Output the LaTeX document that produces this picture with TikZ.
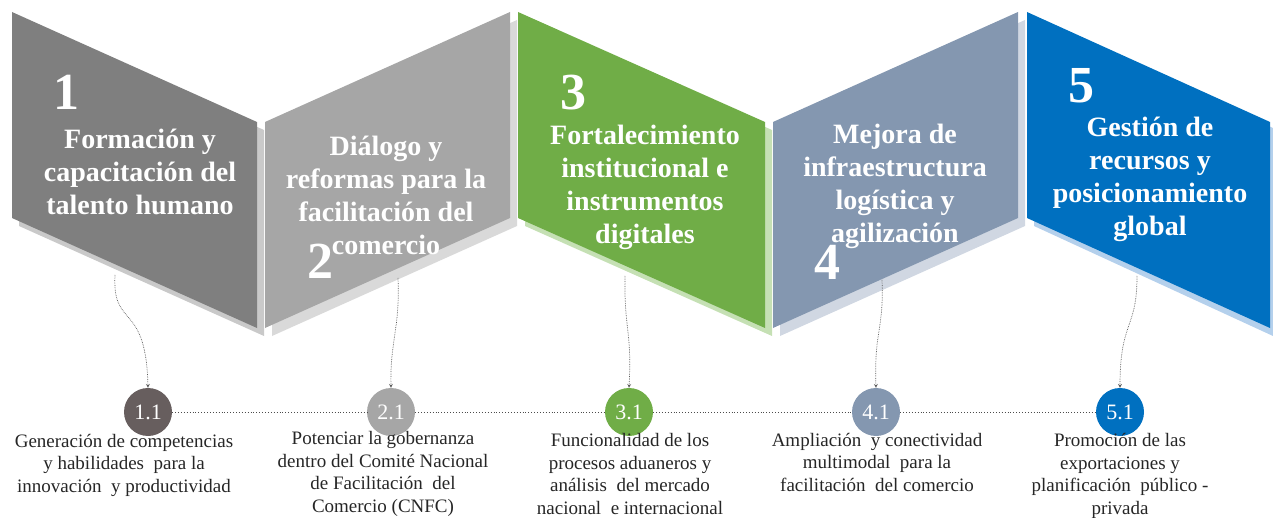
\documentclass[tikz,border=0pt]{standalone}
\usepackage{fontspec}
\setmainfont{Liberation Serif}
\usetikzlibrary{positioning}
\definecolor{toneA}{HTML}{7F7F7F}
\definecolor{shadeA}{HTML}{C9C9C9}
\definecolor{dotA}{HTML}{675E5E}
\definecolor{toneB}{HTML}{A6A6A6}
\definecolor{shadeB}{HTML}{D9D9D9}
\definecolor{toneC}{HTML}{70AD47}
\definecolor{shadeC}{HTML}{C5E0B4}
\definecolor{toneD}{HTML}{8497B0}
\definecolor{shadeD}{HTML}{D0D7E2}
\definecolor{toneE}{HTML}{0070C0}
\definecolor{shadeE}{HTML}{B4D0EC}
\tikzset{
  title/.style={align=center, text=white, font=\fontsize{28}{33}\selectfont\bfseries},
  bignum/.style={text=white, font=\fontsize{52}{52}\selectfont\bfseries},
  dot/.style={circle, minimum size=48pt, inner sep=0pt, text=white,
    font=\fontsize{22}{22}\selectfont},
  note/.style={align=center, text=black!85, font=\fontsize{19}{22.5}\selectfont},
  link/.style={dotted, line width=0.9pt, color=black!70},
  stem/.style={densely dotted, line width=0.7pt, color=black!65, ->, >=stealth}
}

\begin{document}
\begin{tikzpicture}[x=1pt,y=-1pt]
  \useasboundingbox (0,0) rectangle (1273,518);
  % shadows
  \fill[shadeA] (19,20) -- (264,130) -- (264,336) -- (19,226) -- cycle;
  \fill[shadeB] (272,130) -- (517,20) -- (517,226) -- (272,336) -- cycle;
  \fill[shadeC] (525,20) -- (772,130) -- (772,336) -- (525,226) -- cycle;
  \fill[shadeD] (780,130) -- (1025,20) -- (1025,226) -- (780,336) -- cycle;
  \fill[shadeE] (1034,20) -- (1273,128) -- (1273,336) -- (1034,226) -- cycle;
  % panels
  \fill[toneA] (12,12) -- (257,122) -- (257,328) -- (12,218) -- cycle;
  \fill[toneB] (265,122) -- (510,12) -- (510,218) -- (265,328) -- cycle;
  \fill[toneC] (518,12) -- (765,122) -- (765,328) -- (518,218) -- cycle;
  \fill[toneD] (773,122) -- (1018,12) -- (1018,218) -- (773,328) -- cycle;
  \fill[toneE] (1027,12) -- (1270,122) -- (1270,328) -- (1027,218) -- cycle;

  \node[bignum] (n1) at (66,92) {1};
  \node[title] (t1) at (140,172) {Formación y\\capacitación del\\talento humano};
  \node[bignum] (n2) at (320,261) {2};
  \node[title] (t2) at (386,195) {Diálogo y\\reformas para la\\facilitación del\\comercio};
  \node[bignum] (n3) at (573,93) {3};
  \node[title] (t3) at (645,187) {Fortalecimiento\\institucional e\\instrumentos\\digitales};
  \node[bignum] (n4) at (827,262) {4};
  \node[title] (t4) at (895,186) {Mejora de\\infraestructura\\logística y\\agilización};
  \node[bignum] (n5) at (1081,86) {5};
  \node[title] (t5) at (1150,179) {Gestión de\\recursos y\\posicionamiento\\global};

  % milestones
  \node[dot, fill=dotA] (c1) at (148,412) {1.1};
  \node[dot, fill=toneB] (c2) at (391,412) {2.1};
  \node[dot, fill=toneC] (c3) at (629,412) {3.1};
  \node[dot, fill=toneD] (c4) at (876,412) {4.1};
  \node[dot, fill=toneE] (c5) at (1120,412) {5.1};
  \draw[link] (c1) -- (c2);
  \draw[link] (c2) -- (c3);
  \draw[link] (c3) -- (c4);
  \draw[link] (c4) -- (c5);

  \coordinate (s1) at (115,275);
  \coordinate (s2) at (398,278);
  \coordinate (s3) at (625,276);
  \coordinate (s4) at (882,280);
  \coordinate (s5) at (1137,276);
  \draw[stem] (s1) .. controls (112,330) and (146,300) .. (c1.north);
  \draw[stem] (s2) .. controls (400,330) and (390,340) .. (c2.north);
  \draw[stem] (s3) .. controls (624,330) and (632,330) .. (c3.north);
  \draw[stem] (s4) .. controls (884,330) and (874,330) .. (c4.north);
  \draw[stem] (s5) .. controls (1137,330) and (1120,320) .. (c5.north);

  \node[note] (d1) at (124,465) {Generación de competencias\\y habilidades\ \ para la\\innovación\ \ y productividad};
  \node[note] (d2) at (383,474) {Potenciar la gobernanza\\dentro del Comité Nacional\\de Facilitación\ \ del\\Comercio (CNFC)};
  \node[note] (d3) at (630,474) {Funcionalidad de los\\procesos aduaneros y\\análisis\ \ del mercado\\nacional\ \ e internacional};
  \node[note] (d4) at (877,462) {Ampliación\ \ y conectividad\\multimodal\ \ para la\\facilitación\ \ del comercio};
  \node[note] (d5) at (1120,476) {Promoción de las\\exportaciones y\\planificación\ \ público -\\privada};
\end{tikzpicture}
\end{document}
